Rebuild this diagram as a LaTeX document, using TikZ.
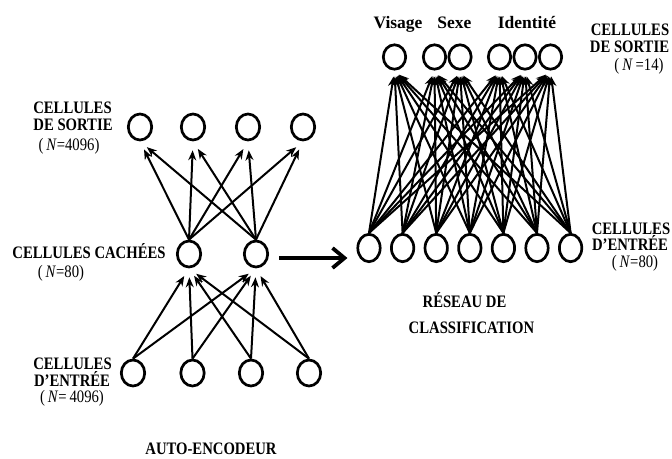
\documentclass[tikz,border=0pt]{standalone}
\usepackage{fontspec}
\setmainfont{Liberation Serif}
\newfontfamily\cond{Liberation Serif}[FakeStretch=0.84]
\usetikzlibrary{shapes.geometric,arrows.meta,calc}

\begin{document}
\begin{tikzpicture}[x=1pt,y=-1pt,
  cell/.style={ellipse,draw,line width=2.7pt,inner sep=0pt,
    minimum width=23.4pt,minimum height=26pt},
  rin/.style={cell,minimum width=22.4pt,minimum height=27.4pt},
  rout/.style={cell,minimum width=22.4pt,minimum height=24.4pt},
  link/.style={line width=2pt,-{Stealth[length=10pt,width=8pt]}},
  bigarrow/.style={line width=3.8pt,-{Straight Barb[length=12pt,width=20pt]}},
  lab/.style={anchor=base,inner sep=0pt,font=\cond\bfseries\fontsize{17.5}{20}\selectfont},
  num/.style={anchor=base,inner sep=0pt,font=\cond\fontsize{17.5}{20}\selectfont},
  toplab/.style={anchor=base,inner sep=0pt,font=\bfseries\fontsize{17.5}{20}\selectfont}
]
\useasboundingbox (0,0) rectangle (672,458);

% ---- auto-encoder ----
\node[cell] (lo1) at (140,127) {};
\node[cell] (lo2) at (193,127) {};
\node[cell] (lo3) at (248,127) {};
\node[cell] (lo4) at (303,127) {};
\node[cell] (lh1) at (189,254) {};
\node[cell] (lh2) at (256,254) {};
\node[cell] (li1) at (133,373) {};
\node[cell] (li2) at (192.5,373) {};
\node[cell] (li3) at (251,373) {};
\node[cell] (li4) at (309,373) {};

\foreach \i in {1,...,4}
  \foreach \j in {1,2}
    \draw[link,shorten >=9pt] (li\i.north) -- (lh\j.south);
\foreach \j in {1,2}
  \foreach \i in {1,...,4}
    \draw[link,shorten >=9pt] (lh\j.north) -- (lo\i.south);

\node[lab] (t1) at (72.5,113) {CELLULES};
\node[lab] (t2) at (73,130) {DE SORTIE};
\node[num] (t3) at (69,150) {(\,\textit{N}=4096)};

\node[lab] (t4) at (89,258) {CELLULES CACHÉES};
\node[num] (t5) at (61,277) {(\,\textit{N}=80)};

\node[lab] (t6) at (72.5,369) {CELLULES};
\node[lab] (t7) at (72,386) {D’ENTRÉE};
\node[num] (t8) at (72,402) {(\,\textit{N}=\,4096)};

\node[lab] (t9) at (211,454) {AUTO-ENCODEUR};

% ---- classification network ----
\foreach \k/\x in {1/369,2/402.6,3/436.2,4/469.8,5/503.4,6/537,7/570.6}
  \node[rin] (ri\k) at (\x,248) {};
\foreach \k/\x in {1/394.5,2/434.5,3/460,4/499.5,5/525,6/550.5}
  \node[rout] (ro\k) at (\x,57) {};

\foreach \i in {1,...,7}
  \foreach \j in {1,...,6}
    \draw[link,shorten >=6pt] (ri\i.north) -- (ro\j.south);

\draw[bigarrow] ($(lh2.east)+(10,4)$) -- ($(ri1.west)+(-9,10)$);

\node[toplab] (v1) at (398,28) {Visage};
\node[toplab] (v2) at (454.5,28) {Sexe};
\node[toplab] (v3) at (527,28) {Identité};

\node[lab] (r1) at (630,35) {CELLULES};
\node[lab] (r2) at (629.5,52) {DE SORTIE};
\node[num] (r3) at (639,70) {(\,\textit{N}\,=14)};

\node[lab] (r4) at (631,234) {CELLULES};
\node[lab] (r5) at (630,250) {D’ENTRÉE};
\node[num] (r6) at (635,267) {(\,\textit{N}=80)};

\node[lab] (r7) at (464.5,307) {RÉSEAU DE};
\node[lab] (r8) at (471.5,333) {CLASSIFICATION};
\end{tikzpicture}
\end{document}
